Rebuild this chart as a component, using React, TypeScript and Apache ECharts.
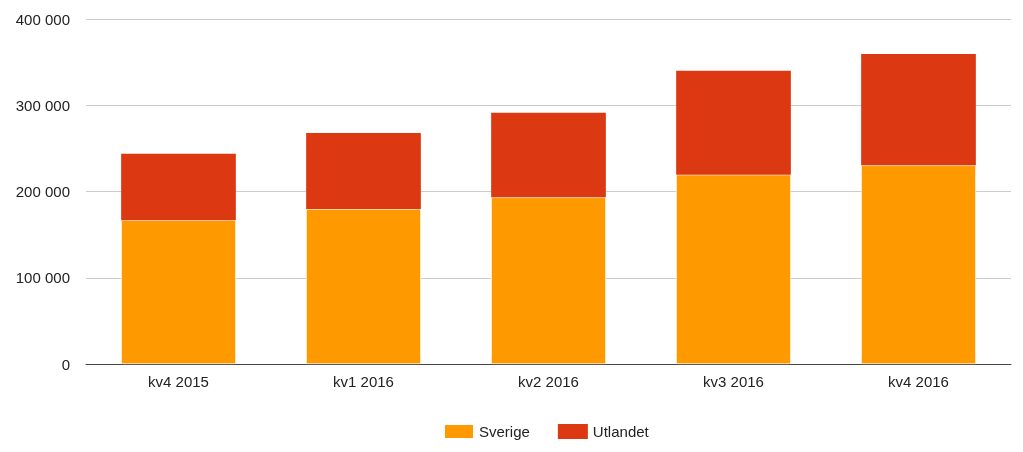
import React, { useEffect, useRef } from "react";
import * as echarts from "echarts";

const categories = ["kv4 2015", "kv1 2016", "kv2 2016", "kv3 2016", "kv4 2016"];
const sverige = [166700, 179700, 193300, 219500, 230400];
const utlandet = [77200, 88100, 98100, 120500, 129000];
const yTicks = [0, 100000, 200000, 300000, 400000];

const fmt = (v: number) => String(v).replace(/\B(?=(\d{3})+(?!\d))/g, " ");

export default function App() {
  const ref = useRef<HTMLDivElement>(null);
  useEffect(() => {
    if (!ref.current) return;
    const chart = echarts.init(ref.current, undefined, { renderer: "svg" });
    const font = "'Liberation Sans', Arial, sans-serif";
    const fs = 15;
    chart.setOption({
      animation: false,
      textStyle: { fontFamily: font },
      grid: { left: 86, right: 12, top: 19, bottom: 88, containLabel: false },
      legend: {
        top: 423,
        left: 443,
        itemWidth: 30,
        itemHeight: 15,
        itemGap: 28,
        icon: "rect",
        padding: 0,
        textStyle: { fontSize: fs, color: "#222", fontFamily: font },
        data: ["Sverige", "Utlandet"],
      },
      xAxis: {
        type: "category",
        data: categories,
        axisTick: { show: false },
        axisLine: { lineStyle: { color: "#444", width: 1 } },
        axisLabel: { fontSize: fs, color: "#222", margin: 10, fontFamily: font },
      },
      yAxis: {
        type: "value",
        min: yTicks[0],
        max: yTicks[yTicks.length - 1],
        interval: 100000,
        axisLine: { show: false },
        axisTick: { show: false },
        splitLine: { lineStyle: { color: "#cccccc" } },
        axisLabel: { fontSize: fs, color: "#222", margin: 16, formatter: (v: number) => fmt(v), fontFamily: font },
      },
      series: [
        {
          name: "Sverige",
          type: "bar",
          stack: "total",
          data: sverige,
          barCategoryGap: "38%",
          itemStyle: { color: "#FF9900", borderColor: "#ffffff", borderWidth: 0.6 },
        },
        {
          name: "Utlandet",
          type: "bar",
          stack: "total",
          data: utlandet,
          barCategoryGap: "38%",
          itemStyle: { color: "#DC3912" },
        },
      ],
    });
    return () => chart.dispose();
  }, []);
  return <div ref={ref} style={{ position: "fixed", left: 0, top: 0, width: 1023, height: 452 }} />;
}
